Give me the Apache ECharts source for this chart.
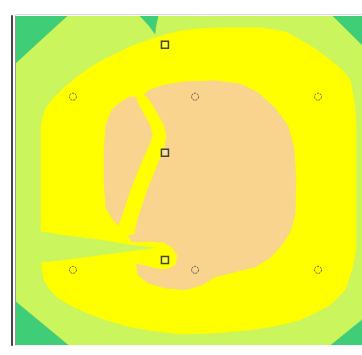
<!DOCTYPE html>
<html>
<head>
<meta charset="utf-8">
<script src="https://cdn.jsdelivr.net/npm/echarts@6/dist/echarts.min.js"></script>
<style>
  html, body { margin: 0; padding: 0; background: #ffffff; }
  #chart { width: 362px; height: 355px; }
</style>
</head>
<body>
<div id="chart"></div>
<script>
// Floor plan extent, in plan units
const PLAN_W = 20;
const PLAN_H = 19;

// Band colours, lowest to highest
const levelColors = ['#3fcd77', '#cbf55c', '#ffff00', '#f9d48e'];

// Contour band outlines as [x, y] vertices in plan units
const planOutline = [[0, 0], [20, 0], [20, 19], [0, 19]];

const midBand = [
  [1.45, 6.07], [1.45, 12.72], [1.68, 13.58], [2.08, 14.16], [2.54, 14.62],
  [3.12, 15.14], [3.70, 15.61], [4.28, 16.01], [4.86, 16.36], [6.01, 16.94],
  [6.88, 17.34], [7.75, 17.63], [8.61, 17.92], [9.54, 18.15], [10.64, 18.27],
  [11.79, 18.32], [14.10, 18.32], [15.55, 18.09], [16.42, 17.63], [17.28, 17.11],
  [18.15, 16.47], [18.84, 15.90], [19.31, 15.32], [19.54, 14.16], [19.65, 13.01],
  [19.65, 5.49], [19.42, 4.34], [19.02, 3.18], [18.15, 2.31], [17.28, 1.85],
  [16.42, 1.45], [14.97, 1.10], [13.53, 0.87], [11.50, 0.69], [9.54, 0.64],
  [8.03, 0.81], [6.59, 1.04], [4.86, 1.56], [3.99, 1.91], [3.12, 2.31],
  [2.43, 2.72], [1.97, 3.18], [1.62, 3.76], [1.50, 4.34], [1.45, 5.20]
];

const highBand = [
  [5.55, 13.58], [6.01, 13.99], [6.59, 14.34], [7.17, 14.28], [7.75, 14.74],
  [8.61, 15.03], [9.77, 15.20], [11.50, 15.26], [12.95, 15.09], [13.99, 14.57],
  [14.97, 13.70], [15.72, 12.66], [16.07, 11.39], [16.18, 9.54], [16.13, 7.51],
  [15.84, 6.53], [15.32, 5.72], [14.68, 5.03], [13.82, 4.51], [12.66, 4.22],
  [11.50, 3.93], [10.75, 3.47], [9.77, 3.18], [8.61, 3.29], [7.63, 3.58],
  [7.05, 4.05], [6.94, 4.80], [6.82, 5.61], [6.59, 6.18], [6.13, 6.65],
  [5.61, 7.23], [5.20, 7.92], [5.09, 9.25], [5.09, 11.27], [5.20, 12.72]
];

// Mid-level crease splitting the high band
const midCrease = [
  [7.23, 14.62], [7.69, 14.16], [8.09, 13.47], [8.50, 12.77], [8.67, 12.08],
  [8.55, 11.39], [8.27, 10.69], [7.92, 9.83], [7.57, 8.96], [7.28, 8.09],
  [6.99, 7.23], [6.82, 6.42], [6.30, 6.30], [5.78, 6.53], [6.07, 7.23],
  [6.36, 8.09], [6.65, 8.96], [6.99, 9.83], [7.34, 10.69], [7.69, 11.45],
  [7.92, 12.14], [7.75, 12.77], [7.34, 13.47], [6.99, 14.16]
];

// Mid-level pocket around the lower square sensor
const midPocket = [
  [6.47, 5.90], [7.75, 5.95], [8.50, 5.90], [9.02, 5.61], [9.31, 5.14],
  [9.19, 4.62], [8.67, 4.39], [8.03, 4.45], [7.46, 4.62], [6.47, 4.80]
];

// Low-level tongue entering from the left wall
const lowTongue = [
  [0.81, 6.65], [2.54, 6.36], [4.86, 6.07], [6.59, 5.78], [8.03, 5.61],
  [6.59, 5.43], [4.86, 5.20], [3.12, 4.97], [1.68, 4.80], [0.81, 4.80]
];

// Lowest band in the corners and at the top wall
const cornerTopLeft = [[0, 19], [2.95, 19], [0, 16.30]];
const notchTop = [[7.17, 19], [8.21, 19], [8.09, 18.44], [8.03, 17.98], [7.69, 18.44]];
const cornerTopRight = [[18.32, 19], [20, 19], [20, 17.34]];
const cornerBottomLeft = [[0, 2.49], [3.01, 0], [0, 0]];
const cornerBottomRight = [[18.21, 0], [20, 1.45], [20, 0]];

// Sensor positions in plan units
const squareSensors = [[8.61, 17.34], [8.61, 11.10], [8.61, 4.91]];
const circleSensors = [
  [3.29, 14.34], [10.35, 14.34], [17.46, 14.34],
  [3.29, 4.34], [10.35, 4.34], [17.46, 4.34]
];

// Paint order: background first, then higher bands, then overlays
const regions = [
  { level: 1, pts: planOutline },
  { level: 2, pts: midBand },
  { level: 3, pts: highBand },
  { level: 2, pts: midCrease },
  { level: 2, pts: midPocket },
  { level: 1, pts: lowTongue },
  { level: 0, pts: cornerTopLeft },
  { level: 0, pts: notchTop },
  { level: 0, pts: cornerTopRight },
  { level: 0, pts: cornerBottomLeft },
  { level: 0, pts: cornerBottomRight }
];

const chart = echarts.init(document.getElementById('chart'), null, { renderer: 'canvas' });

function frameAxis(extra, line) {
  return Object.assign({
    type: 'value',
    axisTick: { show: false },
    axisLabel: { show: false },
    splitLine: { show: false },
    axisLine: line
      ? { show: true, onZero: false, lineStyle: line }
      : { show: false, onZero: false }
  }, extra);
}

chart.setOption({
  animation: false,
  backgroundColor: '#ffffff',
  grid: { left: 16, top: 16, right: 0, bottom: 10 },
  xAxis: [
    frameAxis({ min: 0, max: PLAN_W, position: 'bottom' }, null),
    frameAxis({ min: 0, max: PLAN_W, position: 'top', offset: 2 }, { color: '#d6d6d6', width: 1 })
  ],
  yAxis: [
    frameAxis({ min: 0, max: PLAN_H, position: 'left', offset: 1 }, { color: '#9a9a9a', width: 1 }),
    frameAxis({ min: 0, max: PLAN_H, position: 'left', offset: 4 }, { color: '#444444', width: 2 })
  ],
  series: [
    {
      type: 'custom',
      xAxisIndex: 0, yAxisIndex: 0,
      clip: true,
      silent: true,
      data: regions.map((r, i) => [i]),
      renderItem: function (params, api) {
        const region = regions[params.dataIndex];
        const points = region.pts.map(p => api.coord(p));
        return {
          type: 'polygon',
          shape: { points: points },
          style: { fill: levelColors[region.level], stroke: levelColors[region.level], lineWidth: 0.6 }
        };
      }
    },
    {
      type: 'scatter', xAxisIndex: 0, yAxisIndex: 0, z: 5,
      symbol: 'rect', symbolSize: 7, data: squareSensors,
      itemStyle: { color: 'rgba(255,255,255,0.35)', borderColor: '#1a1a1a', borderWidth: 1.5 }
    },
    {
      type: 'scatter', xAxisIndex: 0, yAxisIndex: 0, z: 5,
      symbol: 'circle', symbolSize: 7, data: circleSensors,
      itemStyle: { color: 'rgba(255,255,255,0)', borderColor: '#333333', borderWidth: 1, borderType: [2, 1] }
    }
  ]
});
</script>
</body>
</html>
